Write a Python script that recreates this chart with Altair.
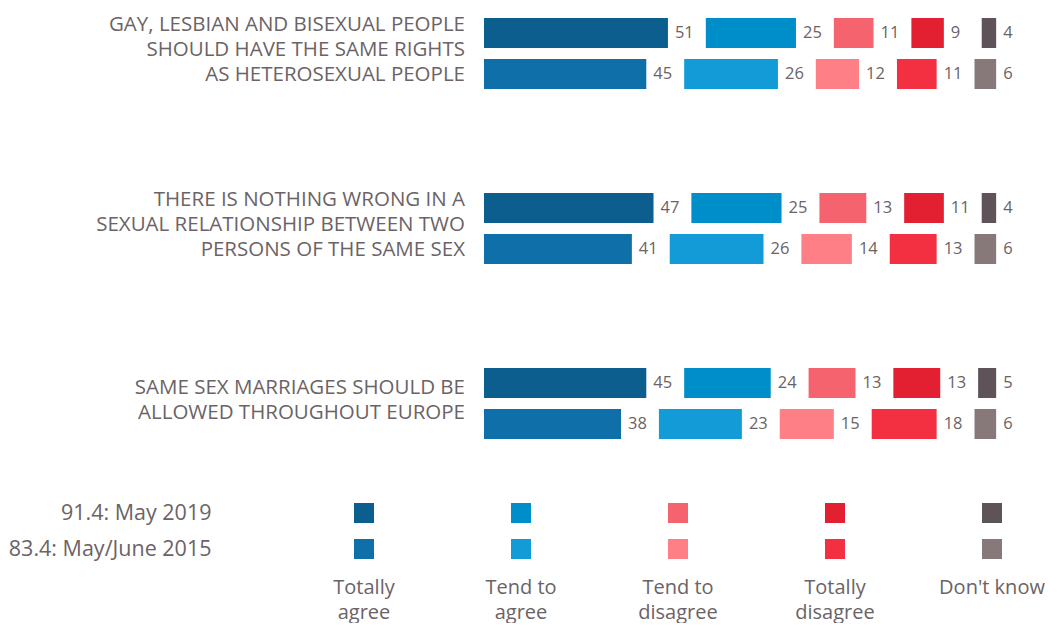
import altair as alt
import pandas as pd

FONT = "Open Sans"
TXT = "#6b6366"

STATEMENTS = [
    "GAY, LESBIAN AND BISEXUAL PEOPLE\nSHOULD HAVE THE SAME RIGHTS\nAS HETEROSEXUAL PEOPLE",
    "THERE IS NOTHING WRONG IN A\nSEXUAL RELATIONSHIP BETWEEN TWO\nPERSONS OF THE SAME SEX",
    "SAME SEX MARRIAGES SHOULD BE\nALLOWED THROUGHOUT EUROPE",
]
CATEGORIES = ["Totally agree", "Tend to agree", "Tend to disagree", "Totally disagree", "Don't know"]
LEGEND_LINES = [["Totally", "agree"], ["Tend to", "agree"], ["Tend to", "disagree"],
                ["Totally", "disagree"], ["Don't know"]]
YEARS = ["91.4: May 2019", "83.4: May/June 2015"]
V2019 = [[51, 25, 11, 9, 4], [47, 25, 13, 11, 4], [45, 24, 13, 13, 5]]
V2015 = [[45, 26, 12, 11, 6], [41, 26, 14, 13, 6], [38, 23, 15, 18, 6]]
COL2019 = ["#0c5e8f", "#008ecb", "#f5646e", "#e31f32", "#5e5359"]
COL2015 = ["#0f6fa8", "#129bd6", "#ff7f87", "#f23041", "#87787a"]

GAP = 10.5  # space (in value units) left between segments for the labels

# ---------------- main bars ----------------
rows = []
for s, stmt in enumerate(STATEMENTS):
    for year, vals in ((YEARS[0], V2019[s]), (YEARS[1], V2015[s])):
        cum = 0
        for c, (cat, v) in enumerate(zip(CATEGORIES, vals)):
            start = cum + c * GAP
            rows.append({"stmt": stmt, "year": year, "cat": cat, "value": v,
                         "start": start, "end": start + v, "key": cat + " / " + year})
            cum += v
df = pd.DataFrame(rows)

keys = [c + " / " + YEARS[0] for c in CATEGORIES] + [c + " / " + YEARS[1] for c in CATEGORIES]
colors = COL2019 + COL2015
color_enc = alt.Color("key:N", scale=alt.Scale(domain=keys, range=colors), legend=None)

y_enc = alt.Y("stmt:N", sort=STATEMENTS, axis=None,
              scale=alt.Scale(paddingInner=0.594, paddingOuter=0.057))
yo_enc = alt.YOffset("year:N", sort=YEARS,
                     scale=alt.Scale(paddingInner=0.268, paddingOuter=0))
x_scale = alt.Scale(domain=[0, 150], nice=False, zero=True)

bars = alt.Chart(df).mark_bar().encode(
    x=alt.X("start:Q", scale=x_scale, axis=None),
    x2="end:Q",
    y=y_enc,
    yOffset=yo_enc,
    color=color_enc,
)

vals = alt.Chart(df).mark_text(
    align="left", baseline="middle", dx=7, fontSize=16.5, font=FONT, color=TXT
).encode(
    x=alt.X("end:Q", scale=x_scale, axis=None),
    y=y_enc,
    yOffset=yo_enc,
    text="value:Q",
)

# statement labels: one text per line, on a half-line grid (14 half-lines per statement)
HALF_LINES_PER_STMT = 14
line_rows = []
for s, stmt in enumerate(STATEMENTS):
    parts = stmt.split("\n")
    first = 0 if len(parts) == 3 else 1
    for k, part in enumerate(parts):
        line_rows.append({"line": part, "gi": s * HALF_LINES_PER_STMT + first + 2 * k})
lines_df = pd.DataFrame(line_rows)

stmts = alt.Chart(lines_df).mark_text(
    align="right", baseline="middle", dx=-19, fontSize=20.5, font=FONT, color=TXT
).encode(
    x=alt.X(datum=0, scale=x_scale, axis=None),
    y=alt.Y("gi:Q", axis=None,
            scale=alt.Scale(domain=[-1.36, 33.92], reverse=True, nice=False, zero=False)),
    text="line:N",
)

main = alt.layer(alt.layer(bars, vals), stmts).resolve_scale(y="independent").properties(
    width=541, height=441)

# ---------------- legend ----------------
leg_rows = []
for cat in CATEGORIES:
    for year in YEARS:
        leg_rows.append({"cat": cat, "year": year, "key": cat + " / " + year})
leg_df = pd.DataFrame(leg_rows)

leg_x = alt.Scale(range=[-120, 508], padding=0)

legend = alt.Chart(leg_df).mark_square(size=400, opacity=1, filled=True).encode(
    x=alt.X("cat:N", sort=CATEGORIES, scale=leg_x, axis=None),
    y=alt.Y("year:N", sort=YEARS, scale=alt.Scale(padding=0.5),
            axis=alt.Axis(title=None, domain=False, ticks=False, tickSize=0,
                          labelPadding=273, labelFontSize=21.5, labelFont=FONT,
                          labelColor=TXT, labelLimit=400)),
    color=color_enc,
).properties(width=541, height=72)

lab_rows = []
for cat, lines in zip(CATEGORIES, LEGEND_LINES):
    for k, t in enumerate(lines):
        lab_rows.append({"cat": cat, "k": k, "text": t})
lab_df = pd.DataFrame(lab_rows)

labels = alt.Chart(lab_df).mark_text(
    align="center", baseline="middle", fontSize=20, font=FONT, color=TXT
).encode(
    x=alt.X("cat:N", sort=CATEGORIES, scale=leg_x, axis=None),
    y=alt.Y("k:O", axis=None, scale=alt.Scale(type="point", padding=0.42)),
    text="text:N",
).properties(width=541, height=46)

legend_block = alt.vconcat(legend, labels, spacing=10)

chart = alt.vconcat(main, legend_block, spacing=46).properties(
    padding=0
).configure_view(stroke=None)

chart.save("out.html", embed_options={"renderer": "svg", "actions": False})
